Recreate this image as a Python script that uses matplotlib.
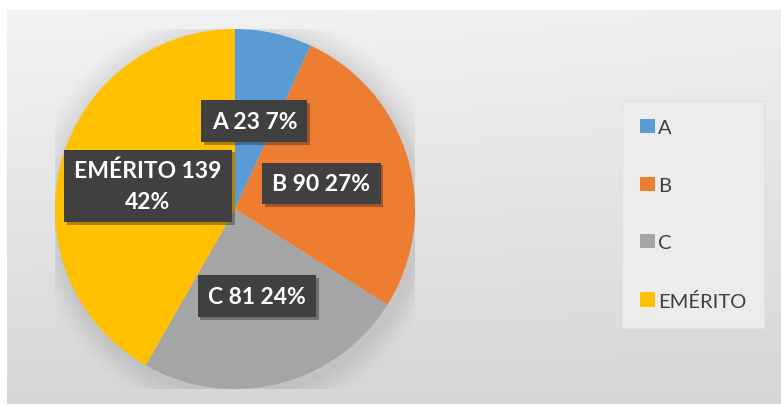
import numpy as np
import matplotlib.pyplot as plt
from matplotlib import patheffects as pe

# dados
categorias = ['A', 'B', 'C', 'EMÉRITO']
valores = [23, 90, 81, 139]
cores = ['#5B9BD5', '#ED7D31', '#A5A5A5', '#FFC000']

total = sum(valores)
rotulos = [f'{c} {v} {round(v / total * 100)}%' for c, v in zip(categorias, valores)]
rotulos = [r.replace('EMÉRITO 139 ', 'EMÉRITO 139\n') for r in rotulos]

plt.rcParams['font.family'] = ['Lato', 'DejaVu Sans']

W, H = 781, 406
fig = plt.figure(figsize=(W / 100, H / 100), dpi=100)
fig.patch.set_facecolor('white')

# fundo em degradê (cinza claro em cima, mais escuro embaixo)
bg = fig.add_axes([7 / W, 1 / H, 774 / W, 394 / H])
gy = np.linspace(0, 1, 200)[:, None]
gx = np.linspace(0, 1, 300)[None, :]
lum = 0.955 - 0.115 * gy - 0.02 * gx * (1 - gy)
img = np.repeat(lum[:, :, None], 3, axis=2)
bg.imshow(img, aspect='auto', origin='upper', extent=[0, 1, 0, 1])
bg.axis('off')

# pizza
r_px = 180
cx, cy = 235, 406 - 210
ax = fig.add_axes([(cx - r_px) / W, (cy - r_px) / H, 2 * r_px / W, 2 * r_px / H])
ax.axis('off')

# sombra suave ao redor
for i, a in enumerate(np.linspace(0.06, 0.01, 8)):
    ax.add_patch(plt.Circle((0.02, -0.03), 1.0 + 0.02 * (i + 1), color='#8a8a8a',
                            alpha=a, lw=0, zorder=0))

wedges, textos = ax.pie(valores, colors=cores, startangle=90, counterclock=False,
                        labels=rotulos, labeldistance=0.5, radius=1,
                        wedgeprops=dict(linewidth=0),
                        textprops=dict(color='white', fontsize=16.5, fontweight='bold',
                                       linespacing=1.55))
for t in textos:
    t.set_horizontalalignment('center')
    t.set_verticalalignment('center')
    t.set_bbox(dict(boxstyle='square,pad=0.45', facecolor='#404040', edgecolor='none'))
    t.get_bbox_patch().set_path_effects([pe.withSimplePatchShadow(offset=(2, -2),
                                                                  alpha=0.35)])
    t.set_zorder(5)
ax.set_xlim(-1, 1)
ax.set_ylim(-1, 1)

# legenda
leg = fig.legend(wedges, categorias, loc='upper left',
                 bbox_to_anchor=(622 / W, 1 - 102 / H), frameon=True,
                 fontsize=14.5, handlelength=0.72, handleheight=0.72, handletextpad=0.15,
                 labelspacing=2.0, borderpad=0.9, borderaxespad=0, fancybox=False)
leg.get_frame().set_facecolor('#ececec')
leg.get_frame().set_edgecolor('#e2e2e2')
leg.get_frame().set_alpha(1)
for t in leg.get_texts():
    t.set_color('#404040')

fig.savefig('out.png', dpi=100)
